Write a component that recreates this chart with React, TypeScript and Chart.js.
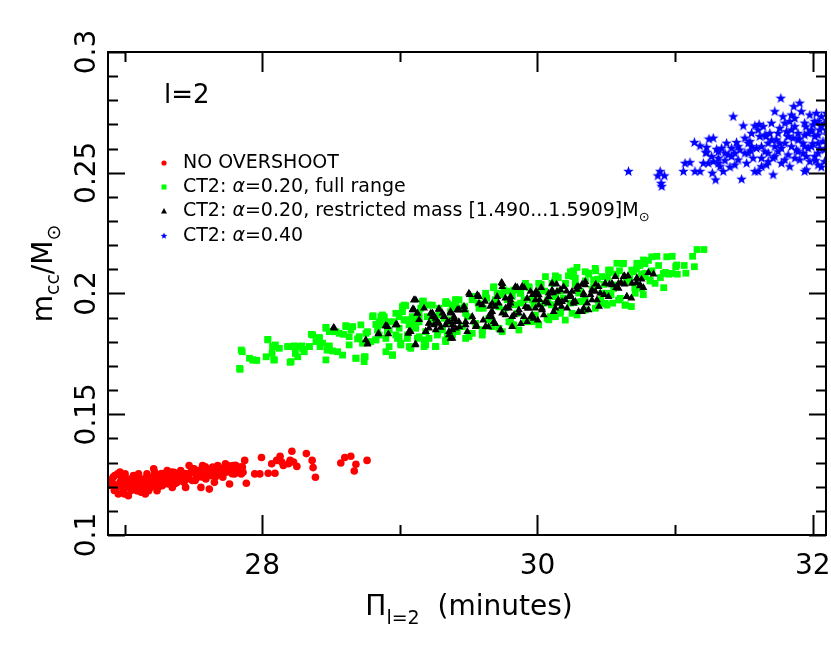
import React, { useEffect, useRef } from 'react';
import { Chart, registerables } from 'chart.js';

Chart.register(...registerables);

// ---- data (x = period in minutes, y = m_cc / M_sun) ----
const noOvershoot: number[][] = [
  [26.906,0.1226],[26.930,0.1246],[26.943,0.1197],[26.967,0.1218],[26.992,0.1183],[27.004,0.1253],[27.016,0.1211],[27.028,0.1163],
  [27.041,0.1232],[27.053,0.1197],[27.065,0.1246],[27.077,0.1218],[27.090,0.1183],[27.102,0.1253],[27.114,0.1211],[27.126,0.1190],
  [27.139,0.1232],[27.151,0.1170],[27.163,0.1253],[27.175,0.1218],[27.188,0.1197],[27.200,0.1239],[27.212,0.1274],[27.224,0.1211],
  [27.236,0.1183],[27.249,0.1246],[27.261,0.1226],[27.273,0.1204],[27.285,0.1253],[27.298,0.1232],[27.310,0.1267],[27.322,0.1211],
  [27.334,0.1246],[27.347,0.1226],[27.359,0.1260],[27.371,0.1239],[27.383,0.1218],[27.396,0.1253],[27.408,0.1267],[27.420,0.1232],
  [27.444,0.1197],[27.457,0.1246],[27.469,0.1288],[27.481,0.1260],[27.493,0.1226],[27.506,0.1274],[27.518,0.1253],[27.530,0.1239],
  [27.542,0.1267],[27.555,0.1197],[27.567,0.1288],[27.579,0.1253],[27.591,0.1232],[27.604,0.1267],[27.616,0.1190],[27.628,0.1246],
  [27.640,0.1281],[27.653,0.1218],[27.665,0.1260],[27.677,0.1288],[27.689,0.1253],[27.702,0.1274],[27.714,0.1239],[27.726,0.1281],
  [27.738,0.1260],[27.751,0.1288],[27.763,0.1211],[27.775,0.1267],[27.787,0.1288],[27.799,0.1253],[27.812,0.1274],[27.824,0.1260],
  [27.836,0.1281],[27.848,0.1253],[27.861,0.1260],[27.873,0.1309],[27.885,0.1214],[27.946,0.1253],[27.983,0.1253],[27.995,0.1321],
  [28.044,0.1256],[28.069,0.1295],[28.093,0.1256],[28.105,0.1309],[28.130,0.1326],[28.142,0.1302],[28.154,0.1288],[28.191,0.1295],
  [28.203,0.1309],[28.216,0.1347],[28.228,0.1302],[28.252,0.1284],[28.321,0.1337],[28.363,0.1309],[28.370,0.1279],[28.387,0.1239],
  [28.571,0.1298],[28.600,0.1321],[28.644,0.1326],[28.669,0.1265],[28.681,0.1293],[28.762,0.1309],
  [26.894,0.1228],[26.918,0.1211],[26.955,0.1170],[26.979,0.1239],[27.004,0.1197],[27.053,0.1226],[27.102,0.1183],[27.126,0.1218],
  [27.175,0.1183],[27.224,0.1253],[27.273,0.1239],[27.322,0.1253],[27.371,0.1218],[27.151,0.1204],[27.200,0.1211],[27.249,0.1204],
  [27.432,0.1218],[27.347,0.1197],
  [26.901,0.1205],[26.926,0.1184],[26.950,0.1253],[26.975,0.1205],[26.999,0.1170],[27.023,0.1226],[27.048,0.1184],[27.072,0.1212],
  [27.097,0.1240],[27.121,0.1177],[27.146,0.1198],[27.170,0.1240],[27.195,0.1219],[27.219,0.1261],[27.244,0.1198],[27.268,0.1254],
  [27.293,0.1212],[27.317,0.1233],[27.342,0.1261],[27.366,0.1212],[27.391,0.1240],[27.415,0.1226],[27.440,0.1254],[27.464,0.1233],
  [27.489,0.1275],[27.513,0.1226],[27.538,0.1261],[27.562,0.1240],[27.587,0.1282],[27.611,0.1254],[27.635,0.1268],[27.660,0.1240],
  [27.684,0.1275],[27.709,0.1254],[27.733,0.1295],[27.758,0.1268],[27.782,0.1254],[27.807,0.1289],[27.831,0.1268],[27.856,0.1282],
  [27.151,0.1233],[27.004,0.1233],[27.077,0.1191],[27.224,0.1233],[27.347,0.1240],[27.469,0.1254],[26.967,0.1261],[26.918,0.1240],
  [27.249,0.1219],[27.420,0.1254],
];

const ct2FullRange: number[][] = [
  [27.840,0.1686],[27.855,0.1759],[27.932,0.1725],[27.961,0.1723],[28.041,0.1810],[28.077,0.1780],[28.072,0.1752],[28.084,0.1725],
  [28.096,0.1787],[28.186,0.1780],[28.203,0.1715],[28.234,0.1783],[28.241,0.1752],[28.258,0.1738],[28.289,0.1783],[28.294,0.1770],
  [28.343,0.1780],[28.357,0.1831],[28.415,0.1818],[28.420,0.1780],[28.439,0.1794],[28.463,0.1860],[28.463,0.1725],[28.471,0.1766],
  [28.488,0.1783],[28.512,0.1762],[28.536,0.1842],[28.548,0.1759],[28.584,0.1745],[28.591,0.1831],[28.608,0.1867],[28.632,0.1821],
  [28.657,0.1863],[28.681,0.1732],[28.693,0.1812],[28.717,0.1870],[28.729,0.1794],[28.741,0.1718],[28.748,0.1738],[28.765,0.1842],
  [28.789,0.1801],[28.806,0.1908],[28.826,0.1872],[28.850,0.1828],[28.862,0.1904],[28.874,0.1870],[28.886,0.1897],[28.898,0.1814],
  [28.922,0.1780],[28.946,0.1745],[28.958,0.1883],[28.971,0.1828],[28.995,0.1856],[29.007,0.1794],[29.019,0.1925],[29.031,0.1890],
  [29.043,0.1950],[29.055,0.1828],[29.067,0.1870],[29.079,0.1773],[29.091,0.1904],[29.115,0.1856],[29.127,0.1814],[29.140,0.1897],
  [29.152,0.1939],[29.171,0.1969],[29.176,0.1780],[29.188,0.1842],[29.212,0.1952],[29.236,0.1883],[29.260,0.1780],[29.272,0.1828],
  [29.284,0.1911],[29.309,0.1856],[29.333,0.1801],[29.357,0.1883],[29.381,0.1952],[29.405,0.1973],[29.417,0.1842],
  [28.838,0.1849],[28.910,0.1842],[28.983,0.1814],[29.103,0.1883],[29.212,0.1814],[29.321,0.1897],[29.345,0.1828],[29.369,0.1925],
  [28.488,0.1842],[28.632,0.1787],[28.391,0.1801],[28.306,0.1759],[28.125,0.1773],[28.029,0.1738],[27.908,0.1732],
  [28.826,0.1808],[28.947,0.1745],[29.007,0.1787],[29.068,0.1780],[29.140,0.1821],[29.188,0.1787],[29.261,0.1780],[29.333,0.1808],
  [29.382,0.1828],[29.478,0.1814],[29.526,0.1835],[29.599,0.1849],[29.671,0.1863],[29.744,0.1842],[29.816,0.1870],[29.865,0.1849],
  [29.961,0.1883],[30.009,0.1870],[30.070,0.1897],[30.130,0.1904],[30.202,0.1890],[30.251,0.1918],[30.347,0.1932],[30.420,0.1939],
  [30.492,0.1959],[30.589,0.1973],[30.637,0.1952],[30.710,0.2001],
  [29.334,0.1967],[29.409,0.1974],[29.470,0.1946],[29.532,0.1988],[29.569,0.1960],[29.606,0.1939],[29.631,0.1981],[29.681,0.2024],
  [29.693,0.1974],[29.743,0.1995],[29.780,0.2010],[29.817,0.1988],[29.841,0.1953],[29.879,0.2002],[29.903,0.1974],[29.940,0.2024],
  [29.977,0.1995],[30.027,0.2038],[30.052,0.2010],[30.076,0.1974],[30.101,0.1953],[30.126,0.2052],[30.151,0.2066],[30.163,0.2010],
  [30.188,0.1981],[30.225,0.2073],[30.262,0.2094],[30.274,0.2038],[30.287,0.2108],[30.299,0.2002],[30.324,0.1967],[30.348,0.2052],
  [30.373,0.2080],[30.398,0.2017],[30.423,0.2094],[30.435,0.2059],[30.460,0.1974],[30.484,0.2038],[30.509,0.2066],[30.522,0.2087],
  [30.534,0.1995],[30.546,0.1960],[30.571,0.2080],[30.596,0.2094],[30.620,0.2123],[30.645,0.2052],[30.670,0.2066],[30.682,0.1946],
  [30.707,0.2024],[30.719,0.2101],[30.744,0.2116],[30.756,0.2080],[30.769,0.1995],[30.781,0.2123],[30.806,0.2137],[30.818,0.2052],
  [30.831,0.2094],[30.868,0.2154],[30.880,0.2116],[30.893,0.2066],[30.917,0.2024],[30.930,0.2087],[30.954,0.2080],[30.979,0.2154],
  [31.004,0.2111],[31.016,0.2080],[31.066,0.2116],[31.078,0.2084],[31.127,0.2154],[31.140,0.2111],[31.159,0.2182],[31.209,0.2182],
  [27.848,0.1766],[27.836,0.1690],[27.933,0.1725],[28.041,0.1808],[28.077,0.1780],[28.089,0.1725],[28.186,0.1780],[28.210,0.1718],
  [28.234,0.1780],[28.271,0.1780],[28.343,0.1780],[28.367,0.1828],[28.416,0.1814],[28.464,0.1856],[28.488,0.1766],[28.524,0.1842],
  [28.560,0.1835],[28.609,0.1863],[28.645,0.1849],[28.681,0.1732],[28.705,0.1821],[28.742,0.1738],[28.754,0.1835],[28.802,0.1904],
  [28.826,0.1808],[28.850,0.1883],[28.886,0.1904],[28.899,0.1759],[28.923,0.1849],[28.947,0.1745],[28.971,0.1918],[28.995,0.1821],
  [29.019,0.1946],[29.043,0.1891],[29.055,0.1814],[29.080,0.1780],[29.116,0.1863],[29.140,0.1918],[29.164,0.1960],[29.176,0.1808],
  [29.200,0.1904],[29.237,0.1883],[29.261,0.1780],[29.285,0.1939],[29.309,0.1849],[29.345,0.1960],[29.357,0.1891],[29.382,0.1835],
  [29.406,0.1946],[29.430,0.1974],[29.454,0.1863],[29.478,0.1918],[29.502,0.1821],[29.526,0.1974],[29.551,0.1876],[29.575,0.1939],
  [29.599,0.1849],[29.623,0.1987],[29.647,0.1891],[29.671,0.1953],[29.707,0.2001],[29.720,0.1856],[29.756,0.1932],[29.780,0.1974],
  [29.792,0.1883],[29.828,0.2014],[29.853,0.1918],[29.877,0.1960],[29.913,0.1883],[29.937,0.2028],[29.961,0.1974],[29.985,0.1911],
  [30.021,0.2014],[30.046,0.1960],[30.082,0.1891],[30.106,0.2042],[30.130,0.1987],[30.166,0.1925],[30.203,0.2042],[30.239,0.1960],
  [30.263,0.2070],[30.287,0.1911],[30.311,0.2008],[30.347,0.1973],[30.372,0.2084],[30.408,0.2028],[30.444,0.1953],[30.468,0.2070],
  [30.505,0.2001],[30.529,0.2097],[30.565,0.2035],[30.601,0.1980],[30.625,0.2125],[30.662,0.2049],[30.698,0.2090],[30.734,0.2125],
  [30.758,0.2021],[30.782,0.2084],[30.818,0.2056],
  [28.874,0.1911],[28.922,0.1883],[28.995,0.1904],[29.031,0.1952],[29.055,0.1890],[29.140,0.1883],[29.164,0.1966],[29.236,0.1952],
  [29.273,0.1835],[29.333,0.1959],[29.405,0.1973],[29.442,0.1939],[29.490,0.1904],[29.526,0.1980],[29.599,0.1828],[29.623,0.2001],
  [29.647,0.1897],[29.683,0.2028],[29.719,0.1945],[29.756,0.2015],[29.804,0.1883],[29.828,0.1870],[29.876,0.2001],[29.913,0.2042],
  [29.973,0.1952],[30.009,0.2042],[30.058,0.2070],[30.094,0.1904],[30.130,0.2073],[30.166,0.1918],[30.202,0.2042],[30.239,0.2090],
  [30.275,0.2063],[30.311,0.1966],[30.347,0.2090],[30.408,0.2056],[30.420,0.2104],[30.468,0.2001],[30.504,0.1952],[30.516,0.2097],
  [30.553,0.2021],[30.577,0.2125],[30.637,0.1952],[30.685,0.2097],[30.722,0.2125],[30.770,0.2139],[30.782,0.2070],[30.830,0.2152],
  [30.854,0.2042],[30.915,0.2083],[30.939,0.2152],[30.975,0.2083],[31.011,0.2118],
];

const ct2Restricted: number[][] = [
  [28.519,0.1859],[28.753,0.1808],[28.765,0.1790],[28.845,0.1832],[28.898,0.1867],[28.917,0.1832],[28.978,0.1872],[29.062,0.1835],
  [29.079,0.1842],[29.103,0.1973],[29.096,0.1936],[29.115,0.1790],[29.127,0.1918],[29.188,0.1842],[29.212,0.1876],[29.224,0.1918],
  [29.236,0.1904],[29.248,0.1870],[29.260,0.1897],[29.284,0.1936],[29.296,0.1859],[29.321,0.1904],[29.333,0.1870],[29.345,0.1883],
  [29.357,0.1842],[29.369,0.1925],[29.369,0.1814],[29.393,0.1904],[29.405,0.1856],[29.417,0.1932],[29.429,0.1883],
  [28.524,0.1856],[28.766,0.1794],[28.845,0.1835],[28.911,0.1863],[28.971,0.1870],[29.068,0.1842],[29.111,0.1787],[29.116,0.1973],
  [29.104,0.1932],[29.212,0.1856],[29.237,0.1918],[29.285,0.1876],[29.357,0.1828],[29.382,0.1814],[29.430,0.1932],[29.466,0.1946],
  [29.490,0.1842],[29.551,0.1863],[29.575,0.1987],[29.623,0.1863],[29.647,0.1904],[29.695,0.1946],[29.732,0.1849],[29.744,0.2028],
  [29.816,0.1863],[29.840,0.2028],[29.889,0.2028],[29.901,0.1904],[29.937,0.1939],[29.973,0.1897],[30.009,0.1952],[30.046,0.1911],
  [30.082,0.1987],[30.106,0.2014],[30.130,0.1939],[30.178,0.1966],[30.227,0.1987],[30.251,0.2008],[30.299,0.2028],[30.323,0.1925],
  [30.347,0.2035],[30.396,0.1973],[30.420,0.2008],[30.492,0.2042],[30.541,0.2035],[30.589,0.2042],[30.625,0.2070],[30.649,0.1987],
  [30.722,0.2063],[30.746,0.2031],[30.806,0.2086],
  [29.508,0.1995],[29.569,0.1988],[29.619,0.1967],[29.656,0.1946],[29.718,0.1960],[29.743,0.1918],[29.767,0.1981],[29.792,0.1939],
  [29.804,0.1960],[29.854,0.2024],[29.903,0.2024],[29.928,0.1939],[29.965,0.1995],[29.990,0.2010],[30.015,0.1974],[30.027,0.2024],
  [30.076,0.1960],[30.113,0.2002],[30.138,0.2038],[30.151,0.1974],[30.175,0.1946],[30.212,0.2010],[30.237,0.1988],[30.262,0.1967],
  [30.287,0.2017],[30.324,0.2038],[30.336,0.1939],[30.361,0.1960],[30.385,0.1995],[30.423,0.2038],[30.447,0.1946],[30.484,0.1995],
  [30.522,0.2038],[30.571,0.2024],[30.608,0.2045],[30.633,0.2038],[30.657,0.2073],[30.682,0.1981],[30.719,0.2045],[30.756,0.2059],
  [30.769,0.2024],[30.843,0.2080],[29.745,0.2041],
  [29.310,0.1918],[29.359,0.1882],[29.396,0.1896],[29.433,0.1861],[29.470,0.1932],[29.532,0.1882],[29.557,0.1868],[29.606,0.1889],
  [29.644,0.1861],[29.668,0.1903],[29.693,0.1875],[29.829,0.1911],[29.879,0.1875],[29.953,0.1903],[30.002,0.1889],
  [29.140,0.1891],[29.176,0.1939],[29.261,0.1849],[29.321,0.1904],[29.406,0.1883],[29.526,0.1904],[29.599,0.1953],[29.683,0.1883],
  [29.768,0.1939],[29.804,0.1973],[29.865,0.1932],[29.925,0.1980],[29.997,0.2001],[30.033,0.1932],[30.142,0.2008],[30.215,0.1939],
  [30.275,0.1966],[30.335,0.1994],[30.444,0.2028],[30.516,0.1987],[30.565,0.2070],[30.686,0.2042],[29.382,0.1870],[29.478,0.1883],
  [29.671,0.1925],[29.816,0.1904],[29.985,0.1939],
  [28.898,0.1866],[28.971,0.1870],[29.067,0.1842],[29.104,0.1973],[29.092,0.1932],[29.128,0.1918],[29.188,0.1842],[29.212,0.1877],
  [29.236,0.1918],[29.273,0.1883],[29.285,0.1934],[29.321,0.1904],[29.369,0.1918],[29.381,0.1849],[29.430,0.1932],[29.466,0.1945],
  [29.478,0.1870],[29.502,0.2001],[29.538,0.1883],[29.562,0.1994],[29.575,0.1959],[29.623,0.1863],[29.659,0.1918],[29.671,0.1959],
  [29.707,0.1987],[29.731,0.1849],[29.739,0.2045],[29.768,0.1911],[29.792,0.1952],[29.804,0.1987],[29.840,0.2026],[29.864,0.1918],
  [29.888,0.2028],[29.913,0.1945],[29.925,0.1883],[29.949,0.2008],[29.961,0.1911],[29.985,0.1973],[30.009,0.1994],[30.033,0.1939],
  [30.058,0.1966],[30.082,0.2001],[30.106,0.2042],[30.118,0.1925],[30.142,0.1959],[30.166,0.2015],[30.190,0.2028],[30.202,0.1973],
  [30.239,0.1994],[30.263,0.1959],[30.287,0.2028],[30.299,0.1925],[30.335,0.2001],[30.347,0.2049],[30.371,0.1932],[30.396,0.2015],
  [30.432,0.1973],[30.456,0.2001],[30.541,0.2042],[30.589,0.2021],[30.632,0.2073],[30.649,0.1987],[30.722,0.2063],[30.746,0.2035],
  [30.806,0.2086],
];

const ct2Alpha040: number[][] = [
  [30.661,0.2505],[30.874,0.2487],[30.891,0.2505],[30.922,0.2487],[30.898,0.2456],[30.903,0.2443],[31.060,0.2505],[31.072,0.2539],
  [31.108,0.2542],[31.140,0.2625],[31.144,0.2505],[31.181,0.2611],[31.181,0.2505],[31.205,0.2539],[31.222,0.2583],[31.229,0.2605],
  [31.241,0.2539],[31.246,0.2639],[31.277,0.2643],[31.270,0.2498],[31.294,0.2470],[31.301,0.2597],[31.314,0.2560],[31.326,0.2525],
  [31.338,0.2601],[31.350,0.2505],[31.362,0.2550],[31.374,0.2622],[31.386,0.2574],[31.398,0.2523],[31.410,0.2601],[31.422,0.2732],
  [31.434,0.2581],[31.446,0.2625],[31.458,0.2553],[31.470,0.2594],[31.483,0.2473],[31.495,0.2694],[31.507,0.2643],[31.519,0.2539],
  [31.531,0.2581],[31.543,0.2629],[31.555,0.2663],[31.567,0.2560],[31.579,0.2694],[31.591,0.2601],[31.603,0.2505],[31.615,0.2650],
  [31.627,0.2560],[31.640,0.2691],[31.652,0.2587],[31.664,0.2532],[31.676,0.2622],[31.688,0.2663],[31.700,0.2705],[31.712,0.2560],
  [31.724,0.2753],[31.736,0.2636],[31.748,0.2587],[31.760,0.2684],[31.768,0.2808],[31.772,0.2539],[31.784,0.2732],[31.797,0.2622],
  [31.809,0.2670],[31.821,0.2574],[31.833,0.2712],[31.845,0.2739],[31.857,0.2643],[31.862,0.2774],[31.869,0.2691],[31.881,0.2594],
  [31.893,0.2663],[31.905,0.2788],[31.917,0.2753],[31.929,0.2622],[31.941,0.2705],[31.953,0.2567],[31.966,0.2663],[31.978,0.2739],
  [31.990,0.2608],[32.002,0.2698],[32.014,0.2650],[32.026,0.2746],[32.038,0.2581],[32.050,0.2677],[32.062,0.2732],[32.074,0.2629],
  [32.086,0.2705],[32.098,0.2746],[32.106,0.2656],[31.941,0.2505],[31.953,0.2512],[31.833,0.2525],[31.712,0.2491],[32.062,0.2523],
  [32.014,0.2567],[31.893,0.2587],[31.797,0.2553],[31.676,0.2546],[31.579,0.2505],[31.978,0.2546],[32.086,0.2594],[32.038,0.2712],
  [31.990,0.2670],[31.845,0.2608],[31.724,0.2608],[31.627,0.2608],[31.531,0.2622],[31.434,0.2532],[31.277,0.2546],[31.314,0.2587],
  [31.229,0.2583],[32.038,0.2622],[31.941,0.2608],
  [31.900,0.2640],[31.950,0.2690],[32.000,0.2620],[32.050,0.2600],[31.870,0.2560],[31.930,0.2580],[32.020,0.2550],[31.820,0.2650],
  [31.760,0.2620],[31.660,0.2650],[31.610,0.2700],[31.550,0.2590],
  [31.990,0.2677],[32.038,0.2656],[31.893,0.2636],[31.845,0.2677],[31.797,0.2705],[31.748,0.2663],[31.700,0.2636],[31.652,0.2656],
  [31.603,0.2677],[31.555,0.2608],[31.507,0.2581],[31.458,0.2608],[31.410,0.2567],[31.362,0.2581],[31.314,0.2539],[31.265,0.2567],
  [31.941,0.2656],[32.062,0.2691],[32.098,0.2677],[32.014,0.2712],[31.966,0.2601],[31.821,0.2650],[31.772,0.2601],[31.724,0.2567],
  [31.676,0.2581],[31.627,0.2525],[31.905,0.2553],[32.038,0.2532],[32.086,0.2546],[31.869,0.2725],
];

// ---- axes ----
const xMin = 26.88;
const xMax = 32.096;
const yMin = 0.1;
const yMax = 0.3;
const xMinorTicks = [27, 28, 29, 30, 31, 32];
const xTickValues = [28, 30, 32];
const xTickLabels = ['28', '30', '32'];
const yTickValues = [0.1, 0.15, 0.2, 0.25, 0.3];
const yTickLabels = ['0.1', '0.15', '0.2', '0.25', '0.3'];
const yMinorStep = 0.01;

const legendLabels = [
  'NO OVERSHOOT',
  'CT2: α=0.20, full range',
  'CT2: α=0.20, restricted mass [1.490...1.5909]M⊙',
  'CT2: α=0.40',
];
const panelLabel = 'l=2';

const FONT = '"DejaVu Sans", sans-serif';

function toPts(a: number[][]) {
  return a.map(([x, y]) => ({ x, y }));
}

function starPath(g: CanvasRenderingContext2D, cx: number, cy: number, ro: number) {
  const ri = ro * 0.42;
  g.beginPath();
  for (let i = 0; i < 10; i++) {
    const r = i % 2 === 0 ? ro : ri;
    const a = -Math.PI / 2 + (i * Math.PI) / 5;
    const px = cx + r * Math.cos(a), py = cy + r * Math.sin(a);
    if (i === 0) g.moveTo(px, py); else g.lineTo(px, py);
  }
  g.closePath();
}

function makeStar(size: number, color: string) {
  const c = document.createElement('canvas');
  c.width = size;
  c.height = size;
  const g = c.getContext('2d')!;
  starPath(g, size / 2, size / 2, size / 2);
  g.fillStyle = color;
  g.fill();
  return c;
}

function drawSegments(ctx: CanvasRenderingContext2D, segs: [string, string, number][], x: number, y: number) {
  let cx = x;
  for (const [t, f, dy] of segs) {
    ctx.font = f;
    ctx.fillText(t, cx, y + dy);
    cx += ctx.measureText(t).width;
  }
  return cx - x;
}
function measureSegments(ctx: CanvasRenderingContext2D, segs: [string, string, number][]) {
  let w = 0;
  for (const [t, f] of segs) {
    ctx.font = f;
    w += ctx.measureText(t).width;
  }
  return w;
}

const framePlugin = {
  id: 'frame',
  afterDraw(chart: any) {
    const { ctx, chartArea, scales } = chart;
    const { left, right, top, bottom } = chartArea;
    const xs = scales.x, ys = scales.y;
    ctx.save();
    ctx.strokeStyle = '#000';
    ctx.lineWidth = 2;
    ctx.strokeRect(left, top, right - left, bottom - top);

    ctx.beginPath();
    for (const v of xMinorTicks) {
      const px = Math.round(xs.getPixelForValue(v)) + 0.5;
      const len = xTickValues.includes(v) ? 20 : 10;
      ctx.moveTo(px, bottom); ctx.lineTo(px, bottom - len);
      ctx.moveTo(px, top); ctx.lineTo(px, top + len);
    }
    for (let i = 0; ; i++) {
      const v = yMin + i * yMinorStep;
      if (v > yMax + 1e-9) break;
      const py = Math.round(ys.getPixelForValue(v)) + 0.5;
      const major = yTickValues.some((t) => Math.abs(t - v) < 1e-9);
      const len = major ? 17 : 10;
      ctx.moveTo(left, py); ctx.lineTo(left + len, py);
      ctx.moveTo(right, py); ctx.lineTo(right - len, py);
    }
    ctx.stroke();

    ctx.fillStyle = '#000';
    ctx.font = `28px ${FONT}`;
    ctx.textAlign = 'center';
    ctx.textBaseline = 'middle';
    xTickValues.forEach((v, i) => {
      ctx.fillText(xTickLabels[i], xs.getPixelForValue(v), bottom + 32);
    });
    yTickValues.forEach((v, i) => {
      ctx.save();
      ctx.translate(left - 20, ys.getPixelForValue(v));
      ctx.rotate(-Math.PI / 2);
      ctx.fillText(yTickLabels[i], 0, 0);
      ctx.restore();
    });

    // x title
    ctx.textAlign = 'left';
    ctx.textBaseline = 'alphabetic';
    const big = `28px ${FONT}`, sub = `19px ${FONT}`;
    const xSegs: [string, string, number][] = [['Π', big, 0], ['l=2', sub, 9], ['  (minutes)', big, 0]];
    const xw = measureSegments(ctx, xSegs);
    drawSegments(ctx, xSegs, (left + right) / 2 - xw / 2 + 2, bottom + 80);

    // y title
    const ySegs: [string, string, number][] = [['m', big, 0], ['cc', sub, 7], ['/M', big, 0], ['⊙', sub, 8]];
    const yw = measureSegments(ctx, ySegs);
    ctx.save();
    ctx.translate(52, (top + bottom) / 2 - 20);
    ctx.rotate(-Math.PI / 2);
    drawSegments(ctx, ySegs, -yw / 2, 0);
    ctx.restore();

    // panel label
    ctx.font = `26px ${FONT}`;
    ctx.textBaseline = 'middle';
    ctx.fillText(panelLabel, left + 56, top + 44);

    // legend
    const lf = `19px ${FONT}`, lfi = `italic 19px ${FONT}`, lsub = `13px ${FONT}`;
    const mx = 164, tx = 183;
    const rows = [163, 187, 211, 236];
    ctx.fillStyle = '#ff0000';
    ctx.beginPath(); ctx.arc(mx, rows[0], 2.6, 0, Math.PI * 2); ctx.fill();
    ctx.fillStyle = '#00ff00';
    ctx.fillRect(mx - 2.5, rows[1] - 2.5, 5, 5);
    ctx.fillStyle = '#000';
    ctx.beginPath(); ctx.moveTo(mx, rows[2] - 3); ctx.lineTo(mx + 3, rows[2] + 2.5); ctx.lineTo(mx - 3, rows[2] + 2.5); ctx.closePath(); ctx.fill();
    ctx.fillStyle = '#0000ff';
    starPath(ctx, mx, rows[3], 3.5);
    ctx.fill();

    ctx.fillStyle = '#000';
    const split = (s: string): [string, string, number][] => {
      const out: [string, string, number][] = [];
      let buf = '';
      for (const ch of s) {
        if (ch === 'α') { if (buf) out.push([buf, lf, 0]); buf = ''; out.push(['α', lfi, 0]); }
        else if (ch === '⊙') { if (buf) out.push([buf, lf, 0]); buf = ''; out.push(['⊙', lsub, 7]); }
        else buf += ch;
      }
      if (buf) out.push([buf, lf, 0]);
      return out;
    };
    legendLabels.forEach((l, i) => {
      drawSegments(ctx, split(l), tx, rows[i]);
    });
    ctx.restore();
  },
};

export default function App() {
  const ref = useRef<HTMLCanvasElement>(null);
  useEffect(() => {
    document.body.style.margin = '0';
    const star = makeStar(11, '#0000ff');
    const chart = new Chart(ref.current!, {
      type: 'scatter',
      data: {
        datasets: [
          { label: legendLabels[0], data: toPts(noOvershoot), pointStyle: 'circle', pointRadius: 3.8, backgroundColor: '#ff0000', borderColor: '#ff0000', borderWidth: 0, clip: 0 } as any,
          { label: legendLabels[2], data: toPts(ct2Restricted), pointStyle: 'triangle', pointRadius: 4.6, backgroundColor: '#000000', borderColor: '#000000', borderWidth: 0, clip: 0 } as any,
          { label: legendLabels[1], data: toPts(ct2FullRange), pointStyle: 'rect', pointRadius: 4.8, backgroundColor: '#00ff00', borderColor: '#00ff00', borderWidth: 0, clip: 0 } as any,
          { label: legendLabels[3], data: toPts(ct2Alpha040), pointStyle: star, pointRadius: 5, backgroundColor: '#0000ff', borderColor: '#0000ff', borderWidth: 0, clip: 0 } as any,
        ],
      },
      options: {
        responsive: false,
        devicePixelRatio: 1,
        animation: false,
        events: [],
        layout: { padding: { left: 100, top: 52, right: 2, bottom: 103 } },
        plugins: { legend: { display: false }, tooltip: { enabled: false }, title: { display: false } },
        scales: {
          x: {
            type: 'linear', min: xMin, max: xMax,
            ticks: { display: false },
            grid: { display: false },
            border: { display: false },
          },
          y: {
            type: 'linear', min: yMin, max: yMax,
            ticks: { display: false },
            grid: { display: false },
            border: { display: false },
          },
        },
      },
      plugins: [framePlugin],
    });
    return () => chart.destroy();
  }, []);
  return (
    <div style={{ width: 831, height: 646 }}>
      <canvas ref={ref} width={831} height={646} style={{ display: 'block' }} />
    </div>
  );
}
